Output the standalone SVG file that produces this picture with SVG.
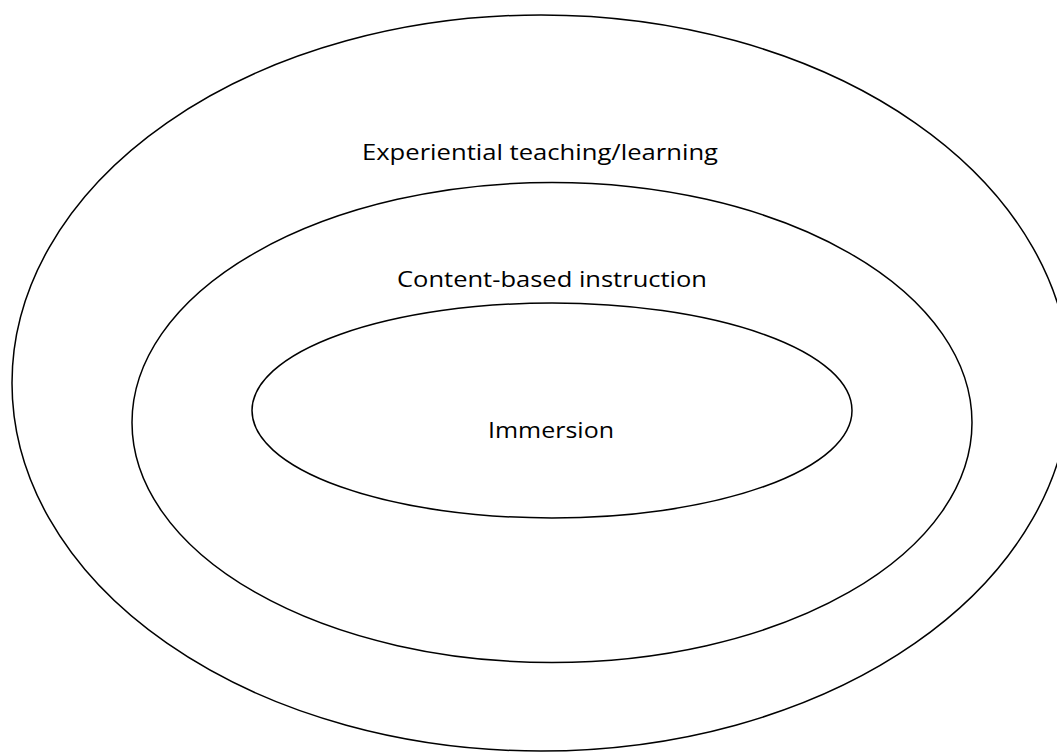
<svg xmlns="http://www.w3.org/2000/svg" width="1057" height="754" viewBox="0 0 1057 754">
<style>
.e{fill:none;stroke:#000;stroke-width:1.5}
.t{font-family:"Open Sans","Liberation Sans",sans-serif;font-size:22px;fill:#000;text-anchor:middle}
</style>
<rect width="1057" height="754" fill="#fff"/>
<g id="experiential">
<ellipse class="e" cx="541" cy="383" rx="529" ry="368"/>
<text class="t" x="540" y="160" textLength="356" lengthAdjust="spacingAndGlyphs">Experiential teaching/learning</text>
</g>
<g id="content-based">
<ellipse class="e" cx="552" cy="422.5" rx="420" ry="240"/>
<text class="t" x="552" y="287" textLength="310" lengthAdjust="spacingAndGlyphs">Content-based instruction</text>
</g>
<g id="immersion">
<ellipse class="e" cx="552" cy="410.5" rx="300" ry="107.5"/>
<text class="t" x="551" y="438" textLength="126" lengthAdjust="spacingAndGlyphs">Immersion</text>
</g>
<g id="connectors"/>
</svg>
